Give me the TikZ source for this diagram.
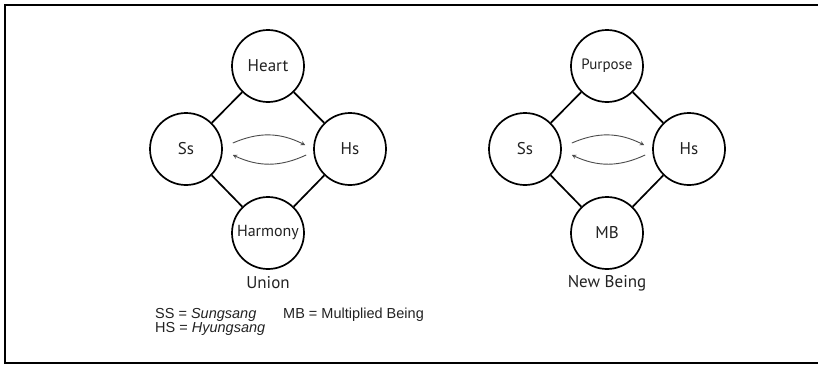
\documentclass[tikz,border=0pt]{standalone}
\usepackage{fontspec}
\setmainfont{PT Sans}
\newfontfamily\legendfont{Liberation Sans}
\usepackage{tikz}
\usetikzlibrary{shapes,arrows,positioning,calc}
\definecolor{darkgray}{HTML}{4A4A4A}
\definecolor{inkgray}{HTML}{222222}

\tikzset{
  being/.style={circle,draw=black,line width=1.7pt,fill=white,minimum size=72pt,inner sep=0pt,text=inkgray,font=\fontsize{17}{19}\selectfont},
  link/.style={line width=1.7pt,black},
  flow/.style={darkgray,line width=0.9pt,-stealth,bend left=25},
  caption/.style={text=inkgray,font=\fontsize{17}{19}\selectfont},
  legend/.style={anchor=west,inner sep=0pt,text=inkgray,font=\legendfont\fontsize{14.5}{16}\selectfont}
}

\begin{document}
\begin{tikzpicture}[x=1pt,y=-1pt]
  \useasboundingbox (0,0) rectangle (818,365);
  % Frame (open on the right)
  \draw[line width=1.8pt] (818,5) -- (5,5) -- (5,363) -- (818,363);

  % Union diamond
  \coordinate (uc) at (268,149);
  \node[being] (heart) at ($(uc)+(0,-83)$) {Heart};
  \node[being] (ssL) at ($(uc)+(-82,0)$) {Ss};
  \node[being] (hsL) at ($(uc)+(82,0)$) {Hs};
  \node[being,font=\fontsize{16}{18}\selectfont] (harmony) at ($(uc)+(0,84)$) {Harmony};
  \draw[link] (heart) -- (ssL);
  \draw[link] (heart) -- (hsL);
  \draw[link] (harmony) -- (ssL);
  \draw[link] (harmony) -- (hsL);
  \draw[flow] ([xshift=10pt,yshift=6pt]ssL.east) to ([xshift=-8pt,yshift=4pt]hsL.west);
  \draw[flow] ([xshift=-7pt,yshift=-6pt]hsL.west) to ([xshift=10pt,yshift=-6pt]ssL.east);
  \node[caption] (union) at (268,283) {Union};

  % New Being diamond
  \coordinate (nc) at (607,149);
  \node[being,font=\fontsize{15}{17}\selectfont] (purpose) at ($(nc)+(0,-83)$) {Purpose};
  \node[being] (ssR) at ($(nc)+(-82,0)$) {Ss};
  \node[being] (hsR) at ($(nc)+(82,0)$) {Hs};
  \node[being] (mb) at ($(nc)+(0,84)$) {MB};
  \draw[link] (purpose) -- (ssR);
  \draw[link] (purpose) -- (hsR);
  \draw[link] (mb) -- (ssR);
  \draw[link] (mb) -- (hsR);
  \draw[flow] ([xshift=10pt,yshift=6pt]ssR.east) to ([xshift=-8pt,yshift=4pt]hsR.west);
  \draw[flow] ([xshift=-7pt,yshift=-6pt]hsR.west) to ([xshift=10pt,yshift=-6pt]ssR.east);
  \node[caption] (newbeing) at (607,283) {New Being};

  % Legend
  \node[legend] (ssdef) at (155,314.5) {SS = \textit{Sungsang}};
  \node[legend] (hsdef) at (155,328.5) {HS = \textit{Hyungsang}};
  \node[legend] (mbdef) at (283,314.5) {MB = Multiplied Being};
\end{tikzpicture}
\end{document}
